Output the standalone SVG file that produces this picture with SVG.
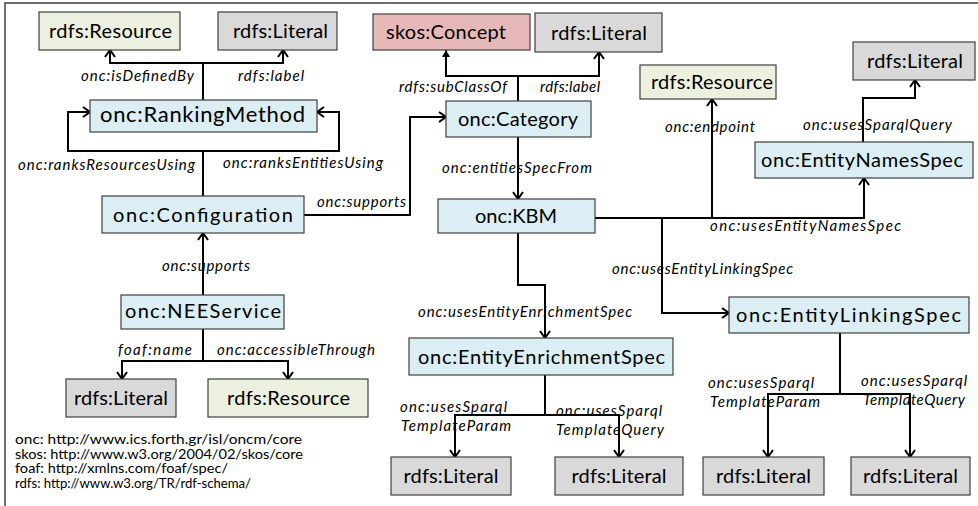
<svg xmlns="http://www.w3.org/2000/svg" width="978" height="506" viewBox="0 0 978 506">
<defs>
<style>
.n rect{stroke:#404040;stroke-width:1.2}
.blue{fill:#DAEEF3}.grey{fill:#D9D9D9}.green{fill:#EBF1DE}.pink{fill:#E6B9B8}
.n text{font-family:Lato,"Liberation Sans",sans-serif;font-size:20px;fill:#000;text-anchor:middle}
.lb{font-family:Lato,"Liberation Sans",sans-serif;font-size:15px;font-style:italic;fill:#000}
.ns{font-family:Lato,"Liberation Sans",sans-serif;font-size:12.5px;fill:#000}
.c path{fill:none;stroke:#000;stroke-width:2;marker-end:url(#a)}
</style>
<marker id="a" markerUnits="userSpaceOnUse" markerWidth="12" markerHeight="14" refX="8" refY="6" orient="auto">
<path d="M1,1 L8,6 L1,11" fill="none" stroke="#000" stroke-width="2"/>
</marker>
<marker id="f" markerUnits="userSpaceOnUse" markerWidth="10" markerHeight="10" refX="7" refY="4" orient="auto">
<path d="M0,0 L7,4 L0,8 Z" fill="#000"/>
</marker>
</defs>
<rect x="0" y="0" width="978" height="506" fill="#fff"/>
<rect x="5" y="3" width="990" height="520" fill="none" stroke="#404040" stroke-width="1.5"/>

<g class="c" id="connectors">
<path d="M203,100 V63 H110 V50"/>
<path d="M203,63 H283 V50"/>
<path d="M203,196 V151 H68 V112 H90"/>
<path d="M203,151 H339 V112 H317"/>
<path d="M304,215 H410 V117 H446"/>
<path d="M518,101 V76 H446 V50" style="marker-end:url(#f)"/>
<path d="M518,76 H599 V52"/>
<path d="M518,137 V199"/>
<path d="M595,218 H864 V178"/>
<path d="M712,218 V99"/>
<path d="M662,218 V313 H729"/>
<path d="M863,142 V98 H915 V80"/>
<path d="M518,233 V285 H545 V338"/>
<path d="M545,375 V415 H455 V457"/>
<path d="M545,415 H619 V457"/>
<path d="M840,333 V394 H768 V457"/>
<path d="M840,394 H910 V457"/>
<path d="M203,295 V233"/>
<path d="M203,329 V361 H122 V379"/>
<path d="M203,361 H288 V379"/>
</g>

<g id="labels">
<text class="lb" x="81" y="81" textLength="113">onc:isDefinedBy</text>
<text class="lb" x="238" y="81" textLength="66">rdfs:label</text>
<text class="lb" x="18" y="170" textLength="177">onc:ranksResourcesUsing</text>
<text class="lb" x="223" y="168" textLength="160">onc:ranksEntitiesUsing</text>
<text class="lb" x="317" y="207" textLength="89">onc:supports</text>
<text class="lb" x="399" y="92" textLength="108">rdfs:subClassOf</text>
<text class="lb" x="540" y="92" textLength="60">rdfs:label</text>
<text class="lb" x="442" y="173" textLength="150">onc:entitiesSpecFrom</text>
<text class="lb" x="665" y="132" textLength="90">onc:endpoint</text>
<text class="lb" x="803" y="130" textLength="149">onc:usesSparqlQuery</text>
<text class="lb" x="710" y="231" textLength="191">onc:usesEntityNamesSpec</text>
<text class="lb" x="612" y="274" textLength="181">onc:usesEntityLinkingSpec</text>
<text class="lb" x="418" y="317" textLength="214">onc:usesEntityEnrichmentSpec</text>
<text class="lb" x="400" y="412" textLength="107">onc:usesSparql</text>
<text class="lb" x="401" y="431" textLength="110">TemplateParam</text>
<text class="lb" x="556" y="416" textLength="106">onc:usesSparql</text>
<text class="lb" x="556" y="435" textLength="108">TemplateQuery</text>
<text class="lb" x="708" y="388" textLength="106">onc:usesSparql</text>
<text class="lb" x="710" y="407" textLength="110">TemplateParam</text>
<text class="lb" x="861" y="386" textLength="106">onc:usesSparql</text>
<text class="lb" x="863" y="405" textLength="102">TemplateQuery</text>
<text class="lb" x="162" y="271" textLength="88">onc:supports</text>
<text class="lb" x="118" y="355" textLength="74">foaf:name</text>
<text class="lb" x="217" y="355" textLength="158">onc:accessibleThrough</text>
</g>

<g class="n" id="resource1"><rect class="green" x="39" y="12" width="141" height="38"/><text x="110.5" y="38" textLength="123">rdfs:Resource</text></g>
<g class="n" id="literal1"><rect class="grey" x="218" y="12" width="119" height="38"/><text x="280.5" y="38" textLength="95">rdfs:Literal</text></g>
<g class="n" id="rankingMethod"><rect class="blue" x="90" y="100" width="227" height="32"/><text x="202.5" y="122" style="font-size:22px" textLength="205">onc:RankingMethod</text></g>
<g class="n" id="configuration"><rect class="blue" x="102" y="196" width="202" height="37"/><text x="203" y="222" textLength="180">onc:Configuration</text></g>
<g class="n" id="skosConcept"><rect class="pink" x="373" y="14" width="157" height="36"/><text x="446" y="39" textLength="120">skos:Concept</text></g>
<g class="n" id="literal2"><rect class="grey" x="535" y="13" width="127" height="39"/><text x="599" y="40" textLength="96">rdfs:Literal</text></g>
<g class="n" id="category"><rect class="blue" x="446" y="101" width="145" height="36"/><text x="518" y="126" textLength="120">onc:Category</text></g>
<g class="n" id="kbm"><rect class="blue" x="438" y="199" width="157" height="34"/><text x="516" y="223" textLength="82">onc:KBM</text></g>
<g class="n" id="resource2"><rect class="green" x="640" y="65" width="136" height="34"/><text x="712" y="89" textLength="122">rdfs:Resource</text></g>
<g class="n" id="literal3"><rect class="grey" x="853" y="42" width="122" height="38"/><text x="915" y="68" textLength="96">rdfs:Literal</text></g>
<g class="n" id="entityNamesSpec"><rect class="blue" x="755" y="142" width="218" height="36"/><text x="862" y="167" textLength="202">onc:EntityNamesSpec</text></g>
<g class="n" id="entityLinkingSpec"><rect class="blue" x="729" y="297" width="240" height="36"/><text x="848.5" y="322" textLength="225">onc:EntityLinkingSpec</text></g>
<g class="n" id="entityEnrichmentSpec"><rect class="blue" x="409" y="338" width="264" height="37"/><text x="541.5" y="364" textLength="247">onc:EntityEnrichmentSpec</text></g>
<g class="n" id="literal4"><rect class="grey" x="391" y="457" width="120" height="38"/><text x="451" y="483" textLength="95">rdfs:Literal</text></g>
<g class="n" id="literal5"><rect class="grey" x="555" y="457" width="128" height="38"/><text x="619" y="483" textLength="95">rdfs:Literal</text></g>
<g class="n" id="literal6"><rect class="grey" x="703" y="457" width="121" height="38"/><text x="763.5" y="483" textLength="95">rdfs:Literal</text></g>
<g class="n" id="literal7"><rect class="grey" x="851" y="457" width="119" height="38"/><text x="910.5" y="483" textLength="95">rdfs:Literal</text></g>
<g class="n" id="neeService"><rect class="blue" x="121" y="295" width="163" height="34"/><text x="203" y="318" textLength="156">onc:NEEService</text></g>
<g class="n" id="literal8"><rect class="grey" x="66" y="379" width="110" height="38"/><text x="121" y="405" textLength="94">rdfs:Literal</text></g>
<g class="n" id="resource3"><rect class="green" x="208" y="379" width="160" height="38"/><text x="288.5" y="405" textLength="123">rdfs:Resource</text></g>

<g id="namespaces">
<text class="ns" x="15" y="444" textLength="287" lengthAdjust="spacingAndGlyphs">onc: http://www.ics.forth.gr/isl/oncm/core</text>
<text class="ns" x="15" y="458.5" textLength="288" lengthAdjust="spacingAndGlyphs">skos: http://www.w3.org/2004/02/skos/core</text>
<text class="ns" x="15" y="473" textLength="213" lengthAdjust="spacingAndGlyphs">foaf: http://xmlns.com/foaf/spec/</text>
<text class="ns" x="15" y="487.5" textLength="236" lengthAdjust="spacingAndGlyphs">rdfs: http://www.w3.org/TR/rdf-schema/</text>
</g>
</svg>
